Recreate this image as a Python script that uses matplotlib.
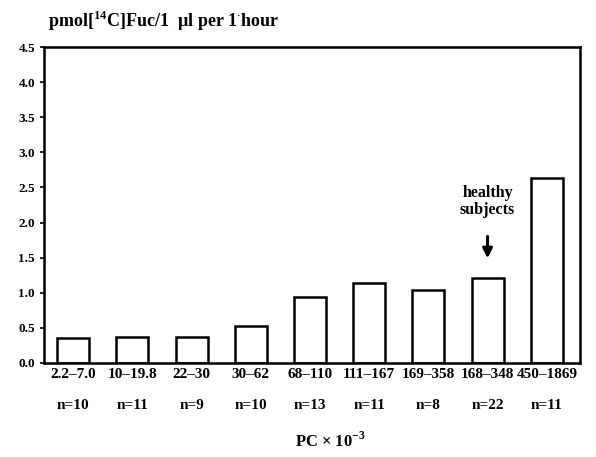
import matplotlib

matplotlib.use("Agg")
import matplotlib.pyplot as plt
import numpy as np

plt.rcParams["font.family"] = ["Liberation Serif", "DejaVu Serif"]
plt.rcParams["font.weight"] = "bold"
plt.rcParams["mathtext.fontset"] = "custom"
plt.rcParams["mathtext.rm"] = "Liberation Serif:bold"
plt.rcParams["mathtext.bf"] = "Liberation Serif:bold"

ranges = ["2.2\u20137.0", "10\u201319.8", "22\u201330", "30\u201362", "68\u2013110",
          "111\u2013167", "169\u2013358", "168\u2013348", "450\u20131869"]
counts = [10, 11, 9, 10, 13, 11, 8, 22, 11]
values = [0.36, 0.37, 0.37, 0.53, 0.94, 1.14, 1.04, 1.21, 2.63]
healthy = 7

fig = plt.figure(figsize=(5.96, 4.57), dpi=100)
ax = fig.add_axes([0.074, 0.206, 0.899, 0.691])

x = np.arange(len(values))
ax.bar(x, values, width=0.54, facecolor="white", edgecolor="black", linewidth=1.8)

ax.set_xlim(-0.49, 8.56)
ax.set_ylim(0, 4.5)
ax.set_yticks(np.arange(0, 4.51, 0.5))
ax.set_yticklabels([f"{v:.1f}" for v in np.arange(0, 4.51, 0.5)], fontsize=9.5)
ax.set_xticks(x)
ax.set_xticklabels([f"{r}\n\nn={n}" for r, n in zip(ranges, counts)], fontsize=11,
                   linespacing=1.25)
ax.tick_params(axis="x", length=0, pad=4)
ax.tick_params(axis="y", length=3, width=1.2, direction="out")
for s in ax.spines.values():
    s.set_linewidth(1.8)

ax.annotate("", xy=(healthy, values[healthy] + 0.24), xytext=(healthy, values[healthy] + 0.63),
            arrowprops=dict(arrowstyle="-|>", color="black", lw=2.2, mutation_scale=14))
ax.text(healthy, values[healthy] + 0.86, "healthy\nsubjects", ha="center", va="bottom",
        fontsize=11.5, linespacing=1.05)

fig.text(0.08, 0.955, "pmol[$^{14}$C]Fuc/1  \u00b5l per 1$^{\\cdot}$hour", fontsize=13,
         ha="left", va="center")
fig.text(0.555, 0.035, r"PC $\times$ 10$^{-3}$", fontsize=12, ha="center", va="center")

fig.savefig("out.png", dpi=100)
